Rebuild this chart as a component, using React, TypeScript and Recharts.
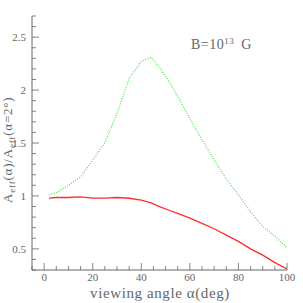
import { Line, LineChart, XAxis, YAxis } from 'recharts';

const angles = [2, 5, 10, 15, 20, 25, 30, 35, 40, 44, 48, 52, 56, 60, 65, 70, 75, 80, 85, 90, 95, 100];
const greenValues = [1.01, 1.03, 1.1, 1.18, 1.34, 1.5, 1.78, 2.11, 2.27, 2.31, 2.2, 2.06, 1.9, 1.73, 1.53, 1.34, 1.16, 1.01, 0.85, 0.71, 0.62, 0.51];
const redValues = [0.98, 0.985, 0.985, 0.99, 0.98, 0.98, 0.985, 0.978, 0.96, 0.935, 0.895, 0.86, 0.825, 0.79, 0.74, 0.69, 0.63, 0.57, 0.5, 0.44, 0.37, 0.31];

const xTicks = [-5, 0, 5, 10, 15, 20, 25, 30, 35, 40, 45, 50, 55, 60, 65, 70, 75, 80, 85, 90, 95, 100];
const xMajor = [0, 20, 40, 60, 80, 100];
const yTicks = [0.3, 0.4, 0.5, 0.6, 0.7, 0.8, 0.9, 1, 1.1, 1.2, 1.3, 1.4, 1.5, 1.6, 1.7, 1.8, 1.9, 2, 2.1, 2.2, 2.3, 2.4, 2.5, 2.6, 2.7];
const yMajor = [0.5, 1, 1.5, 2, 2.5];

const data = angles.map((a, i) => ({ angle: a, green: greenValues[i], red: redValues[i] }));

const ink = '#666';
const font = '"Liberation Serif", serif';

const isMajor = (list: number[], v: number) => list.some((m) => Math.abs(m - v) < 1e-6);

function BottomTick(props: any) {
  const { x, y, payload } = props;
  const major = isMajor(xMajor, payload.value);
  return (
    <g>
      <line x1={x} x2={x} y1={y} y2={y - (major ? 7 : 4)} stroke={ink} strokeWidth={0.8} />
      {major && (
        <text x={x} y={y + 11} textAnchor="middle" fontSize={11} fill={ink} fontFamily={font}>
          {payload.value}
        </text>
      )}
    </g>
  );
}

function TopTick(props: any) {
  const { x, y, payload } = props;
  const major = isMajor(xMajor, payload.value);
  return <line x1={x} x2={x} y1={y} y2={y + (major ? 7 : 4)} stroke={ink} strokeWidth={0.8} />;
}

function LeftTick(props: any) {
  const { x, y, payload } = props;
  const major = isMajor(yMajor, payload.value);
  return (
    <g>
      <line x1={x} x2={x + (major ? 7 : 4)} y1={y} y2={y} stroke={ink} strokeWidth={0.8} />
      {major && (
        <text x={x - 6} y={y + 4} textAnchor="end" fontSize={11} fill={ink} fontFamily={font}>
          {payload.value}
        </text>
      )}
    </g>
  );
}

function RightTick(props: any) {
  const { x, y, payload } = props;
  const major = isMajor(yMajor, payload.value);
  return <line x1={x} x2={x - (major ? 7 : 4)} y1={y} y2={y} stroke={ink} strokeWidth={0.8} />;
}

export default function App() {
  return (
    <div style={{ position: 'absolute', left: 0, top: 0, width: 303, height: 303, background: '#fff' }}>
      <LineChart width={303} height={303} data={data} margin={{ top: 16, right: 16, bottom: 0, left: 2 }}>
        <XAxis
          xAxisId="b"
          dataKey="angle"
          type="number"
          domain={[-5, 100]}
          ticks={xTicks}
          interval={0}
          tick={<BottomTick />}
          tickLine={false}
          tickSize={0}
          tickMargin={0}
          height={33}
          stroke={ink}
          allowDataOverflow
        />
        <XAxis
          xAxisId="t"
          orientation="top"
          dataKey="angle"
          type="number"
          domain={[-5, 100]}
          ticks={xTicks}
          interval={0}
          tick={<TopTick />}
          tickLine={false}
          tickSize={0}
          tickMargin={0}
          height={0}
          stroke={ink}
          allowDataOverflow
        />
        <YAxis
          yAxisId="l"
          type="number"
          domain={[0.3, 2.7]}
          ticks={yTicks}
          interval={0}
          tick={<LeftTick />}
          tickLine={false}
          tickSize={0}
          tickMargin={0}
          width={30}
          stroke={ink}
          allowDataOverflow
        />
        <YAxis
          yAxisId="r"
          orientation="right"
          type="number"
          domain={[0.3, 2.7]}
          ticks={yTicks}
          interval={0}
          tick={<RightTick />}
          tickLine={false}
          tickSize={0}
          tickMargin={0}
          width={0}
          stroke={ink}
          allowDataOverflow
        />
        <Line
          xAxisId="b"
          yAxisId="l"
          dataKey="green"
          stroke="#4ee44e"
          strokeWidth={1.3}
          strokeDasharray="1 1.5"
          dot={false}
          isAnimationActive={false}
        />
        <Line
          xAxisId="b"
          yAxisId="l"
          dataKey="red"
          stroke="#ff2b2b"
          strokeWidth={1.3}
          dot={false}
          isAnimationActive={false}
        />
        <text x={191} y={49} fontSize={14} fill={ink} fontFamily={font} letterSpacing={0.5}>
          B=10
          <tspan fontSize={9} dy={-5}>13</tspan>
          <tspan dy={5} dx={7}>G</tspan>
        </text>
        <text x={160} y={298} textAnchor="middle" fontSize={15} fill={ink} fontFamily={font} letterSpacing={0.6}>
          viewing angle α(deg)
        </text>
        <text
          x={0}
          y={0}
          transform="translate(12,203) rotate(-90)"
          textAnchor="start"
          fontSize={13}
          fill={ink}
          fontFamily={font}
          letterSpacing={0.8}
        >
          A<tspan fontSize={9} dy={3}>eff</tspan>
          <tspan dy={-3}>(α)/A</tspan>
          <tspan fontSize={9} dy={3}>eff</tspan>
          <tspan dy={-3}>(α=2°)</tspan>
        </text>
      </LineChart>
    </div>
  );
}
